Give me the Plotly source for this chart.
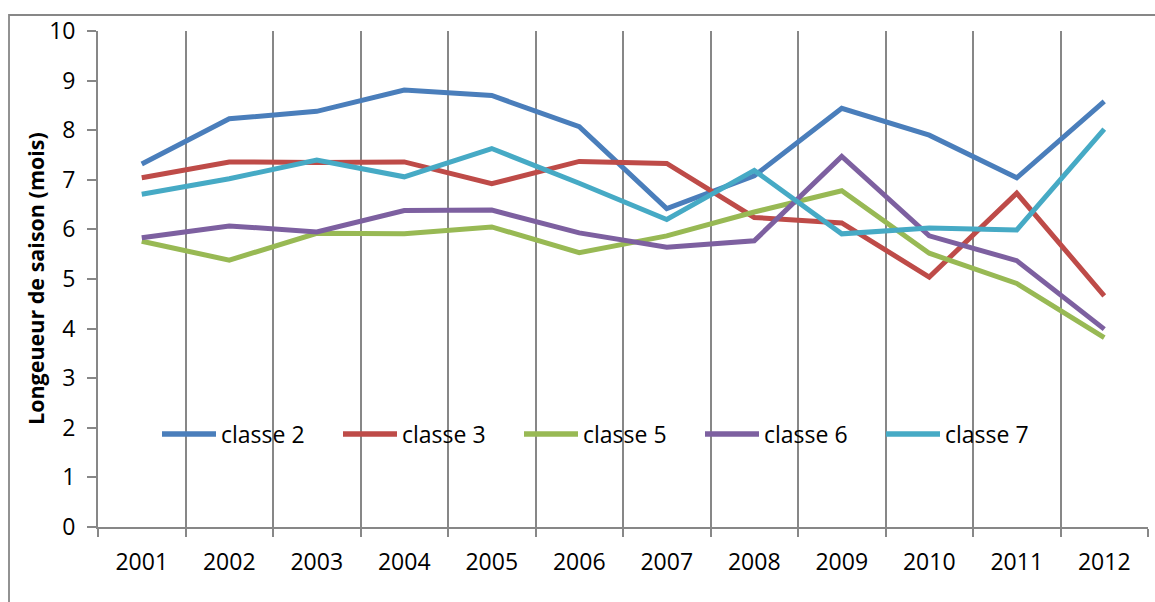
import plotly.graph_objects as go

# Season length (months) per land-cover class, 2001-2012
years = ["2001", "2002", "2003", "2004", "2005", "2006",
         "2007", "2008", "2009", "2010", "2011", "2012"]

classe_2 = [7.32, 8.23, 8.38, 8.81, 8.70, 8.07, 6.42, 7.08, 8.44, 7.90, 7.04, 8.58]
classe_3 = [7.04, 7.36, 7.35, 7.36, 6.92, 7.37, 7.33, 6.24, 6.13, 5.04, 6.73, 4.66]
classe_5 = [5.76, 5.38, 5.92, 5.91, 6.05, 5.53, 5.87, 6.35, 6.78, 5.52, 4.91, 3.82]
classe_6 = [5.83, 6.07, 5.95, 6.38, 6.39, 5.93, 5.64, 5.77, 7.47, 5.87, 5.37, 3.99]
classe_7 = [6.71, 7.02, 7.40, 7.06, 7.63, 6.93, 6.20, 7.19, 5.91, 6.03, 5.99, 8.02]

series_names = ["classe 2", "classe 3", "classe 5", "classe 6", "classe 7"]
series_values = [classe_2, classe_3, classe_5, classe_6, classe_7]
colors = ["#4A7EBB", "#BE4B48", "#98B954", "#7D60A0", "#46AAC5"]

y_title = "Longeueur de saison (mois)"

FONT = "Open Sans"
FS = 23
GRID = "#878787"
GW = 1.8

W, H = 1155, 602
ml, mr, mt, mb = 98, 7, 31, 75
pw, ph = W - ml - mr, H - mt - mb


def px_x(p):
    return (p - ml) / pw


def px_y(p):
    return (H - mb - p) / ph


fig = go.Figure()
for name, vals, col in zip(series_names, series_values, colors):
    fig.add_trace(go.Scatter(
        x=years, y=vals, name=name, mode="lines",
        line=dict(color=col, width=5),
        showlegend=False,
    ))

# In-plot legend row: a short coloured stroke followed by the series name
legend_x0, legend_step, legend_y = 162, 181, 434
shapes = []
annotations = []
for i, (name, col) in enumerate(zip(series_names, colors)):
    x0 = legend_x0 + i * legend_step
    shapes.append(dict(
        type="line", xref="paper", yref="paper",
        x0=px_x(x0), x1=px_x(x0 + 54), y0=px_y(legend_y), y1=px_y(legend_y),
        line=dict(color=col, width=5.5), layer="above",
    ))
    annotations.append(dict(
        text=name, xref="paper", yref="paper",
        x=px_x(x0 + 57), y=px_y(legend_y),
        xanchor="left", yanchor="middle", showarrow=False,
        font=dict(family=FONT, size=FS, color="#000000"),
    ))

annotations.append(dict(
    text="<b>" + y_title + "</b>",
    textangle=-90,
    xref="paper", yref="paper",
    x=px_x(35), y=0.5,
    xanchor="center", yanchor="middle",
    showarrow=False,
    font=dict(family=FONT, size=21.5, color="#000000"),
))

# Outer chart frame
shapes.append(dict(
    type="rect", xref="paper", yref="paper",
    x0=px_x(9), x1=px_x(1170), y0=px_y(15), y1=px_y(620),
    line=dict(color=GRID, width=GW), fillcolor="rgba(0,0,0,0)",
    layer="below",
))

fig.update_layout(
    width=W, height=H,
    margin=dict(l=ml, r=mr, t=mt, b=mb),
    paper_bgcolor="white", plot_bgcolor="white",
    font=dict(family=FONT, size=FS, color="#000000"),
    showlegend=False,
    xaxis=dict(
        type="category",
        range=[-0.5, 11.5],
        tickson="boundaries",
        showgrid=True, gridcolor=GRID, gridwidth=GW,
        showline=True, linecolor=GRID, linewidth=GW,
        ticks="outside", ticklen=8, tickcolor=GRID, tickwidth=GW,
        ticklabelstandoff=13,
        tickfont=dict(family=FONT, size=FS),
        zeroline=False,
    ),
    yaxis=dict(
        range=[0, 10], dtick=1, tick0=0,
        showgrid=False, zeroline=False,
        showline=True, linecolor=GRID, linewidth=GW,
        ticks="outside", ticklen=9, tickcolor=GRID, tickwidth=GW,
        ticklabelstandoff=7,
        tickfont=dict(family=FONT, size=FS),
    ),
    annotations=annotations,
    shapes=shapes,
)

fig.write_html("out.html")
